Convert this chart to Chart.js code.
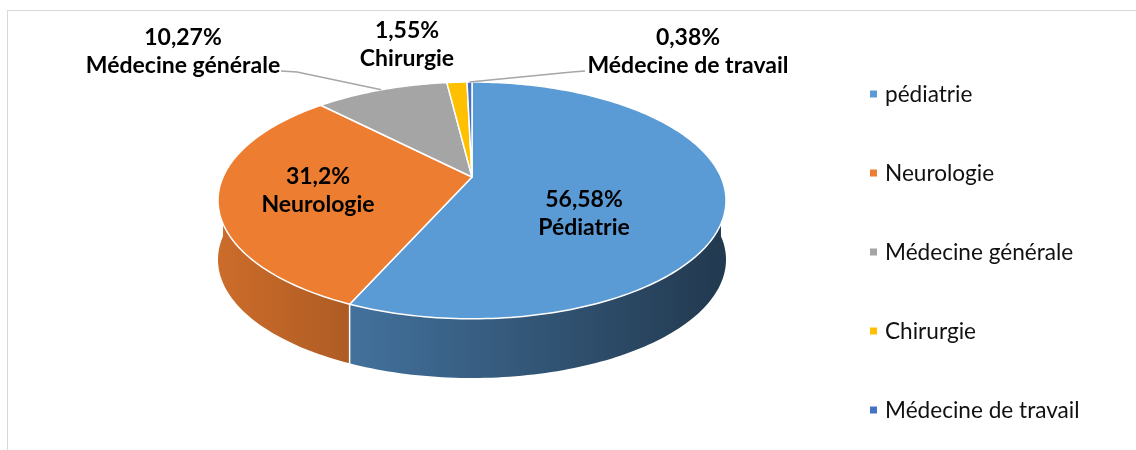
<!DOCTYPE html>
<html>
<head>
<meta charset="utf-8">
<script src="https://cdn.jsdelivr.net/npm/chart.js@4.4.1/dist/chart.umd.min.js"></script>
<style>
  html, body { margin: 0; padding: 0; background: #fff; }
  .frame { position: absolute; left: 7px; top: 10px; width: 1200px; height: 500px;
           border-left: 1px solid #d9d9d9; border-top: 1px solid #d9d9d9; }
  #chart { position: absolute; left: 0; top: 0; }
</style>
</head>
<body>
<div class="frame"></div>
<canvas id="chart" width="1136" height="450"></canvas>
<script>
'use strict';

var categories = ['pédiatrie', 'Neurologie', 'Médecine générale', 'Chirurgie', 'Médecine de travail'];
var labelNames = ['Pédiatrie', 'Neurologie', 'Médecine générale', 'Chirurgie', 'Médecine de travail'];
var shares = [56.58, 31.2, 10.27, 1.55, 0.38];
var colors = ['#5B9BD5', '#ED7D31', '#A5A5A5', '#FFC000', '#4472C4'];

var FONT = 'Lato, "Open Sans", sans-serif';

// perspective of the tilted disc: K is how much nearer points grow,
// DEPTH is the share of the plot height taken by the cylinder wall
var K = 0.198;
var DEPTH = 0.2;

function geometry(area) {
  var w = (area.right - area.left) / 2;
  var h = area.bottom - area.top;
  var depth = h * DEPTH;
  var ry = (h - depth) * (1 - K * K) / 2;
  return {
    cx: (area.left + area.right) / 2,
    cy: area.top + ry / (1 + K),
    rx: w * Math.sqrt(1 - K * K),
    ry: ry,
    depth: depth
  };
}

function proj(g, ang, r, z) {
  var u = r * Math.cos(ang), v = r * Math.sin(ang);
  var d = 1 - K * v;
  return [g.cx + g.rx * u / d, g.cy + g.ry * v / d + z];
}

function shade(hex, f) {
  var n = parseInt(hex.slice(1), 16);
  var r = Math.round(((n >> 16) & 255) * f);
  var gr = Math.round(((n >> 8) & 255) * f);
  var b = Math.round((n & 255) * f);
  return 'rgb(' + r + ',' + gr + ',' + b + ')';
}

function fmt(v) {
  return String(v).replace('.', ',') + '%';
}

function arcPath(ctx, g, s, e, z, reverse) {
  var n = Math.max(2, Math.ceil(Math.abs(e - s) / 0.02));
  for (var j = 0; j <= n; j++) {
    var t = reverse ? n - j : j;
    var p = proj(g, s + (e - s) * t / n, 1, z);
    ctx.lineTo(p[0], p[1]);
  }
}

var pie3d = {
  id: 'pie3d',
  beforeDatasetsDraw: function(chart) {
    var ctx = chart.ctx;
    var area = chart.chartArea;
    var arcs = chart.getDatasetMeta(0).data;
    var g = geometry(area);
    var front = [[0, Math.PI], [2 * Math.PI, 3 * Math.PI]];

    ctx.save();
    // cylinder wall, only the half facing the viewer
    arcs.forEach(function(arc, i) {
      front.forEach(function(rng) {
        var s = Math.max(arc.startAngle, rng[0]);
        var e = Math.min(arc.endAngle, rng[1]);
        if (e <= s) return;
        var grad = ctx.createLinearGradient(area.left, 0, area.right, 0);
        grad.addColorStop(0, shade(colors[i], 0.86));
        grad.addColorStop(1, shade(colors[i], 0.37));
        ctx.beginPath();
        var p0 = proj(g, s, 1, 0);
        ctx.moveTo(p0[0], p0[1]);
        arcPath(ctx, g, s, e, 0, false);
        arcPath(ctx, g, s, e, g.depth, true);
        ctx.closePath();
        ctx.fillStyle = grad;
        ctx.fill();
      });
    });

    // seams between slices on the wall
    arcs.forEach(function(arc) {
      front.forEach(function(rng) {
        var a = arc.startAngle;
        if (a > rng[0] && a < rng[1]) {
          var p = proj(g, a, 1, 0);
          ctx.beginPath();
          ctx.moveTo(p[0], p[1]);
          ctx.lineTo(p[0], p[1] + g.depth);
          ctx.strokeStyle = '#ffffff';
          ctx.lineWidth = 1.5;
          ctx.stroke();
        }
      });
    });

    // top faces
    arcs.forEach(function(arc, i) {
      var c = proj(g, 0, 0, 0);
      ctx.beginPath();
      ctx.moveTo(c[0], c[1]);
      arcPath(ctx, g, arc.startAngle, arc.endAngle, 0, false);
      ctx.closePath();
      ctx.fillStyle = colors[i];
      ctx.fill();
      ctx.lineJoin = 'round';
      ctx.strokeStyle = '#ffffff';
      ctx.lineWidth = 1.5;
      ctx.stroke();
    });
    ctx.restore();
    return false;
  },

  afterDraw: function(chart) {
    var ctx = chart.ctx;
    var arcs = chart.getDatasetMeta(0).data;
    var g = geometry(chart.chartArea);

    // label anchors: centre x and baseline of the percent line
    var anchors = [[584, 207], [318, 184], [183, 45], [407, 38], [688, 45]];
    // leader lines for the thin slices: label end, elbow
    var leaders = { 2: [[281, 71], [297, 72]], 4: [[585, 71], [572, 72]] };

    ctx.save();
    ctx.strokeStyle = '#a6a6a6';
    ctx.lineWidth = 1.5;
    Object.keys(leaders).forEach(function(k) {
      var arc = arcs[k];
      var mid = (arc.startAngle + arc.endAngle) / 2;
      var end = proj(g, mid, 1, 0);
      var pts = leaders[k];
      ctx.beginPath();
      ctx.moveTo(pts[0][0], pts[0][1]);
      ctx.lineTo(pts[1][0], pts[1][1]);
      ctx.lineTo(end[0], end[1]);
      ctx.stroke();
    });

    ctx.fillStyle = '#000';
    ctx.textAlign = 'center';
    ctx.textBaseline = 'alphabetic';
    ctx.font = 'bold 23px ' + FONT;
    anchors.forEach(function(a, i) {
      ctx.fillText(fmt(shares[i]), a[0], a[1]);
      ctx.fillText(labelNames[i], a[0], a[1] + 28);
    });

    // legend
    ctx.textAlign = 'left';
    ctx.textBaseline = 'middle';
    ctx.font = '22.6px ' + FONT;
    categories.forEach(function(name, i) {
      var y = 94 + i * 79;
      ctx.fillStyle = colors[i];
      ctx.fillRect(870, y - 3.5, 7, 7);
      ctx.fillStyle = '#111';
      ctx.fillText(name, 885, y + 1);
    });
    ctx.restore();
  }
};

new Chart(document.getElementById('chart'), {
  type: 'pie',
  data: {
    labels: categories,
    datasets: [{
      data: shares,
      backgroundColor: colors,
      borderWidth: 0
    }]
  },
  options: {
    responsive: false,
    animation: false,
    events: [],
    layout: { padding: { left: 218, right: 410, top: 82, bottom: 72 } },
    plugins: {
      legend: { display: false },
      tooltip: { enabled: false }
    }
  },
  plugins: [pie3d]
});
</script>
</body>
</html>
